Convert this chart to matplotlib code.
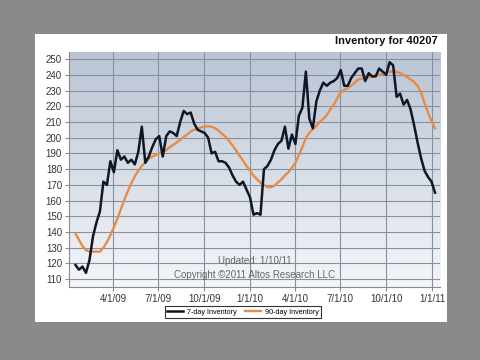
import numpy as np
import pandas as pd
import matplotlib
matplotlib.use("Agg")
import matplotlib.pyplot as plt
import matplotlib.dates as mdates
from matplotlib.patches import Rectangle

plt.rcParams['font.family'] = ['Liberation Sans', 'DejaVu Sans']

# ---- data ----
start_date = "2009-01-16"
n_weeks = 104
inv_7day = [119, 116, 118, 114, 122, 137, 146, 153, 172, 170,
            185, 178, 192, 186, 188, 184, 186, 183, 191, 207,
            184, 188, 194, 199, 201, 188, 201, 204, 203, 201,
            210, 217, 215, 216, 209, 205, 204, 203, 200, 190,
            191, 185, 185, 184, 181, 176, 172, 170, 172, 167,
            162, 151, 152, 151, 180, 182, 186, 192, 196, 198,
            207, 193, 202, 196, 214, 219, 242, 212, 206, 223,
            230, 235, 233, 235, 236, 238, 243, 233, 233, 238,
            241, 244, 244, 236, 241, 239, 239, 244, 242, 240,
            248, 246, 226, 228, 221, 224, 218, 208, 197, 187,
            179, 175, 172, 165]
inv_90day = [139, 135, 131, 128.5, 127.5, 127.5, 127.5, 127.5, 130, 133.5,
             138, 143, 148.5, 154.5, 160.5, 166, 171, 175.5, 179, 182,
             184.5, 186.5, 188, 189, 190, 191, 192, 194, 195.5, 197,
             198.5, 200.5, 202, 204, 205, 206, 206.5, 207, 207.3, 207,
             206, 204.5, 202.5, 200.5, 198, 195, 192, 188.5, 185.5, 182,
             179, 176, 173.5, 171.5, 170, 168.5, 168.5, 169.5, 171.5, 173.5,
             176, 178, 181, 184, 189, 194, 200, 203, 205.5, 207.5,
             210, 212, 214.5, 218, 221, 225, 229, 230.5, 231.5, 233,
             235, 237, 237.5, 238, 238.5, 239, 239.5, 240, 240.5, 241.5,
             242, 242, 242, 241, 240, 238.5, 237, 235.5, 233, 229,
             222, 216, 210.5, 206]
tick_dates = ["2009-04-01", "2009-07-01", "2009-10-01", "2010-01-01",
              "2010-04-01", "2010-07-01", "2010-10-01", "2011-01-01"]
tick_labels = ["4/1/09", "7/1/09", "10/1/09", "1/1/10",
               "4/1/10", "7/1/10", "10/1/10", "1/1/11"]
y_ticks = list(range(110, 251, 10))
title = "Inventory for 40207"
updated = "Updated: 1/10/11"
copyright_txt = "Copyright \u00a92011 Altos Research LLC"
series_names = ["7-day Inventory", "90-day Inventory"]

dates = pd.date_range(start_date, periods=n_weeks, freq="7D")

W, H = 480, 360
fig = plt.figure(figsize=(W / 100, H / 100), dpi=100)
fig.patch.set_facecolor("#8a8a8a")
fig.patches.append(Rectangle((35 / W, 1 - 322 / H), (447 - 35) / W, (322 - 34) / H,
                             transform=fig.transFigure, facecolor="white",
                             edgecolor="none", zorder=-10))

ax = fig.add_axes([69 / W, 1 - 287 / H, (440 - 69) / W, (287 - 52) / H])
ax.set_facecolor("none")

# gradient background
top = np.array([186, 196, 211]) / 255
bot = np.array([244, 246, 249]) / 255
t = np.linspace(0, 1, 256)[:, None]
grad = (top[None, :] * (1 - t) + bot[None, :] * t)[:, None, :]
ax.imshow(grad, extent=[0, 1, 0, 1], transform=ax.transAxes, aspect="auto",
          zorder=0, interpolation="bilinear")

ax.plot(dates, inv_90day, color="#e58d48", lw=1.7, zorder=3, label=series_names[1],
        solid_joinstyle="round")
ax.plot(dates, inv_7day, color="#0f1626", lw=1.8, zorder=4, label=series_names[0],
        solid_joinstyle="round")

ax.set_xlim(pd.Timestamp("2009-01-03"), pd.Timestamp("2011-01-17"))
ax.set_ylim(105, 254.5)

ax.set_yticks(y_ticks)
ax.set_yticklabels([str(v) for v in y_ticks])
ax.set_xticks(pd.to_datetime(tick_dates))
ax.set_xticklabels(tick_labels)

ax.grid(True, color="#8690a0", lw=0.8, zorder=1)
ax.set_axisbelow(True)
for s in ["top", "right"]:
    ax.spines[s].set_visible(False)
ax.spines["left"].set_color("#8a8a8a")
ax.spines["bottom"].set_color("#8a8a8a")
ax.tick_params(axis="both", colors="#8a8a8a", labelcolor="#333333", labelsize=7,
               length=3, width=0.8, pad=2)

fig.text(438 / W, 1 - 41 / H, title, ha="right", va="center", fontsize=8,
         fontweight="bold", color="#111111")
ax.text(255 / W, 1 - 261 / H, updated, transform=fig.transFigure, ha="center",
        va="center", fontsize=7, color="#666666", zorder=5)
ax.text(255 / W, 1 - 275 / H, copyright_txt, transform=fig.transFigure, ha="center",
        va="center", fontsize=7, color="#666666", zorder=5)

h, l = ax.get_legend_handles_labels()
leg = ax.legend(h[::-1], l[::-1], loc="center", bbox_to_anchor=(243 / W, 1 - 312 / H),
                bbox_transform=fig.transFigure, ncol=2, fontsize=5.2, frameon=True,
                fancybox=False, edgecolor="black", borderpad=0.35,
                handlelength=2.2, columnspacing=1.2, handletextpad=0.5)
leg.get_frame().set_linewidth(0.8)

fig.savefig("out.png", dpi=100, facecolor=fig.get_facecolor())
